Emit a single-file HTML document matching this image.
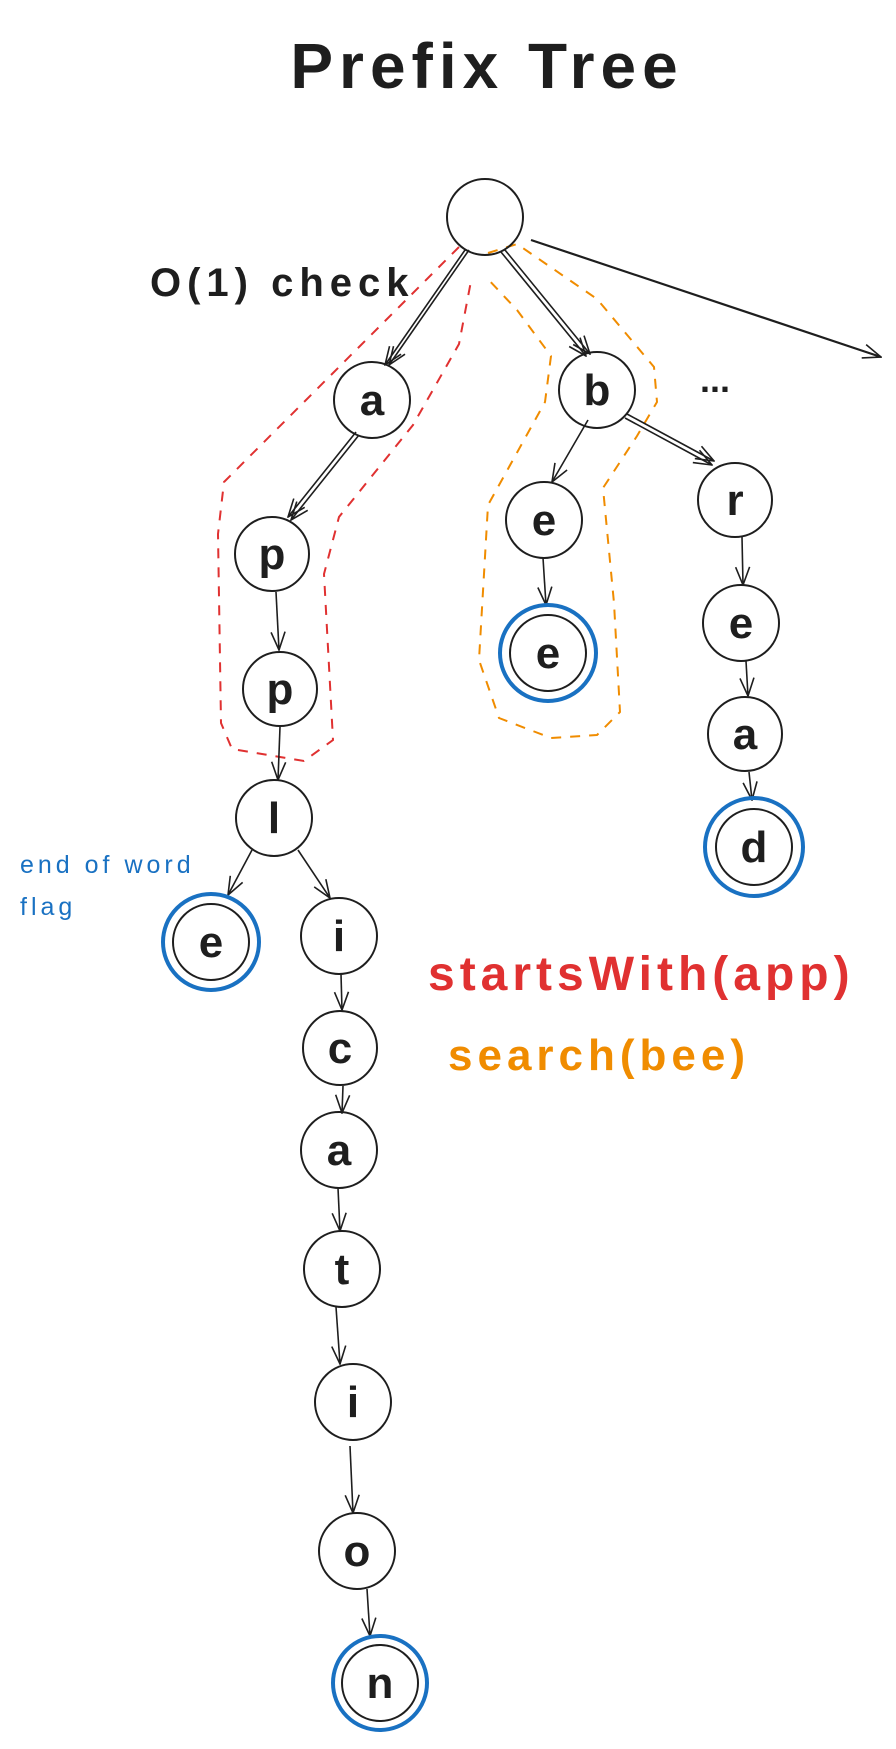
<!DOCTYPE html>
<html><head><meta charset="utf-8"><style>
html,body{margin:0;padding:0;background:#fff;}
svg{display:block;}
text{font-family:"Liberation Sans",sans-serif;}
</style></head><body>
<svg width="896" height="1749" viewBox="0 0 896 1749" xmlns="http://www.w3.org/2000/svg">
<defs>
<marker id="ar" viewBox="0 0 20 16" refX="19" refY="8" markerWidth="20" markerHeight="16" markerUnits="userSpaceOnUse" orient="auto">
<path d="M1,1 L19,8 L1,15" fill="none" stroke="#1e1e1e" stroke-width="1.6"/>
</marker>
</defs>
<text x="487" y="88" font-size="64" text-anchor="middle" fill="#1e1e1e" font-weight="bold" letter-spacing="6">Prefix Tree</text>
<text x="150" y="296" font-size="40" fill="#1e1e1e" font-weight="bold" letter-spacing="6">O(1) check</text>
<text x="700" y="392" font-size="36" fill="#1e1e1e" font-weight="bold">...</text>
<text x="20" y="873" font-size="25" fill="#1971c2" letter-spacing="4">end of word</text>
<text x="20" y="915" font-size="25" fill="#1971c2" letter-spacing="4">flag</text>
<text x="428" y="990" font-size="48" fill="#e03131" font-weight="bold" letter-spacing="5">startsWith(app)</text>
<text x="448" y="1070" font-size="44" fill="#f08c00" font-weight="bold" letter-spacing="5">search(bee)</text>

<path d="M459,247 L224,482 L218,534 L221,723 L232,749 L304,761 L333,740 L324,574 L339,517 L413,425 L459,344 L471,281" fill="none" stroke="#e03131" stroke-width="2" stroke-dasharray="10,9"/>
<path d="M488,253 L517,244 L597,299 L654,367 L657,402 L637,436 L603,488 L614,603 L620,712 L597,735 L551,738 L499,718 L479,660 L488,505 L545,402 L551,356 L517,310 L485,276" fill="none" stroke="#f08c00" stroke-width="2" stroke-dasharray="10,9" stroke-linejoin="round"/>

<g stroke="#1e1e1e" stroke-width="1.6" fill="none" marker-end="url(#ar)">
<path d="M465,250 L385,365"/><path d="M469,250 L389,365" marker-end=""/>
<path d="M505,250 L590,354"/><path d="M501,252 L586,356" marker-end=""/>
<path d="M531,240 L881,357" stroke-width="2.2"/>
<path d="M356,432 L288,517"/><path d="M359,435 L291,520" marker-end=""/>
<path d="M276,592 L279,650"/>
<path d="M280,727 L278,780"/>
<path d="M252,850 L228,895"/>
<path d="M298,850 L330,898"/>
<path d="M588,420 L552,482"/>
<path d="M625,418 L712,465"/><path d="M627,414 L714,461" marker-end=""/>
<path d="M543,558 L546,605"/>
<path d="M742,537 L743,585"/>
<path d="M746,661 L748,696"/>
<path d="M749,772 L752,800"/>
<path d="M341,974 L342,1010"/>
<path d="M343,1086 L342,1113"/>
<path d="M338,1188 L340,1231"/>
<path d="M336,1307 L340,1364"/>
<path d="M350,1446 L353,1513"/>
<path d="M367,1589 L370,1636"/>
</g>

<g stroke="#1971c2" stroke-width="4" fill="none">
<circle cx="548" cy="653" r="48"/><circle cx="754" cy="847" r="49"/>
<circle cx="211" cy="942" r="48"/><circle cx="380" cy="1683" r="47"/>
</g>
<g stroke="#1e1e1e" stroke-width="2" fill="none">
<circle cx="485" cy="217" r="38"/>
<circle cx="372" cy="400" r="38"/><circle cx="597" cy="390" r="38"/>
<circle cx="272" cy="554" r="37"/><circle cx="280" cy="689" r="37"/><circle cx="274" cy="818" r="38"/>
<circle cx="544" cy="520" r="38"/><circle cx="548" cy="653" r="38"/>
<circle cx="735" cy="500" r="37"/><circle cx="741" cy="623" r="38"/><circle cx="745" cy="734" r="37"/><circle cx="754" cy="847" r="38"/>
<circle cx="211" cy="942" r="38"/><circle cx="339" cy="936" r="38"/>
<circle cx="340" cy="1048" r="37"/><circle cx="339" cy="1150" r="38"/><circle cx="342" cy="1269" r="38"/>
<circle cx="353" cy="1402" r="38"/><circle cx="357" cy="1551" r="38"/><circle cx="380" cy="1683" r="38"/>
</g>
<g font-size="44" font-weight="bold" fill="#1e1e1e" text-anchor="middle">
<text x="372" y="415">a</text><text x="597" y="405">b</text>
<text x="272" y="569">p</text><text x="280" y="704">p</text><text x="274" y="833">l</text>
<text x="544" y="535">e</text><text x="548" y="668">e</text>
<text x="735" y="515">r</text><text x="741" y="638">e</text><text x="745" y="749">a</text><text x="754" y="862">d</text>
<text x="211" y="957">e</text><text x="339" y="951">i</text>
<text x="340" y="1063">c</text><text x="339" y="1165">a</text><text x="342" y="1284">t</text>
<text x="353" y="1417">i</text><text x="357" y="1566">o</text><text x="380" y="1698">n</text>
</g>
</svg>
</body></html>
